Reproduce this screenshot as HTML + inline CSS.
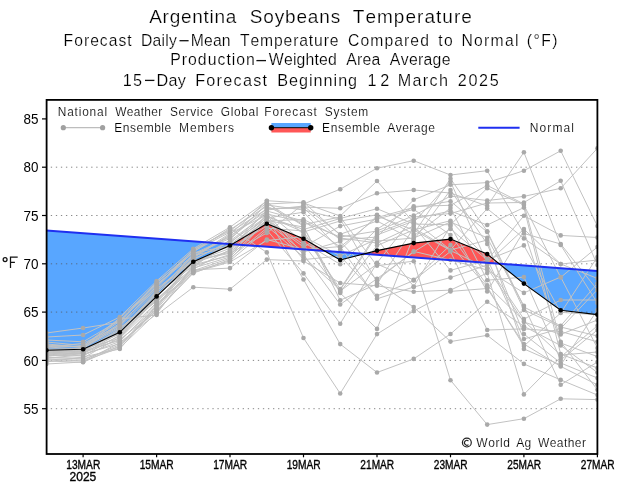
<!DOCTYPE html>
<html><head><meta charset="utf-8"><style>
html,body{margin:0;padding:0;background:#fff;width:621px;height:488px;overflow:hidden}
svg{display:block}
text{font-family:"Liberation Sans",sans-serif;fill:#000;font-kerning:none}
</style></head><body>
<svg width="621" height="488" viewBox="0 0 621 488">
<rect width="621" height="488" fill="#fff"/>
<defs><clipPath id="c"><rect x="46.6" y="99.9" width="550.8" height="354.1"/></clipPath></defs>
<g clip-path="url(#c)">
<path d="M46.4,230.6 L83.1,233.3 L83.1,349.3 L46.4,350.3Z M83.1,233.3 L119.8,236.0 L119.8,332.3 L83.1,349.3Z M119.8,236.0 L156.6,238.7 L156.6,296.4 L119.8,332.3Z M156.6,238.7 L193.3,241.3 L193.3,261.7 L156.6,296.4Z M193.3,241.3 L230.0,244.0 L230.0,245.5 L193.3,261.7Z M230.0,244.0 L232.2,244.2 L230.0,245.5Z M324.6,250.9 L340.2,252.1 L340.2,260.0Z M340.2,252.1 L364.3,253.9 L340.2,260.0Z M499.2,263.7 L523.9,265.5 L523.9,283.6Z M523.9,265.5 L560.7,268.2 L560.7,310.2 L523.9,283.6Z M560.7,268.2 L597.4,270.9 L597.4,314.6 L560.7,310.2Z" fill="#58a6ff"/>
<path d="M232.2,244.2 L266.8,246.7 L266.8,223.7Z M266.8,246.7 L303.5,249.4 L303.5,238.8 L266.8,223.7Z M303.5,249.4 L324.6,250.9 L303.5,238.8Z M364.3,253.9 L377.0,254.8 L377.0,250.6Z M377.0,254.8 L413.7,257.5 L413.7,243.1 L377.0,250.6Z M413.7,257.5 L450.5,260.2 L450.5,239.1 L413.7,243.1Z M450.5,260.2 L487.2,262.8 L487.2,254.1 L450.5,239.1Z M487.2,262.8 L499.2,263.7 L487.2,254.1Z" fill="#ff5757"/>
</g>
<line x1="50.8" x2="597.4" y1="167.2" y2="167.2" stroke="#555555" stroke-width="0.7" stroke-dasharray="1.3 3.75"/>
<line x1="50.8" x2="597.4" y1="215.5" y2="215.5" stroke="#555555" stroke-width="0.7" stroke-dasharray="1.3 3.75"/>
<line x1="50.8" x2="597.4" y1="263.8" y2="263.8" stroke="#555555" stroke-width="0.7" stroke-dasharray="1.3 3.75"/>
<line x1="50.8" x2="597.4" y1="312.1" y2="312.1" stroke="#555555" stroke-width="0.7" stroke-dasharray="1.3 3.75"/>
<line x1="50.8" x2="597.4" y1="360.4" y2="360.4" stroke="#555555" stroke-width="0.7" stroke-dasharray="1.3 3.75"/>
<line x1="50.8" x2="597.4" y1="408.7" y2="408.7" stroke="#555555" stroke-width="0.7" stroke-dasharray="1.3 3.75"/>
<g clip-path="url(#c)">
<polyline fill="none" stroke="#c2c2c2" stroke-width="1" points="46.4,361.0 83.1,362.3 119.8,345.8 156.6,308.2 193.3,260.5 230.0,253.3 266.8,233.0 303.5,204.0 340.2,189.2 377.0,168.2 413.7,160.7 450.5,175.0 487.2,170.7 523.9,233.5 560.7,244.0 597.4,290.0"/>
<polyline fill="none" stroke="#c2c2c2" stroke-width="1" points="46.4,349.0 83.1,348.5 119.8,324.5 156.6,287.8 193.3,251.2 230.0,232.2 266.8,209.0 303.5,207.0 340.2,208.3 377.0,193.3 413.7,190.0 450.5,193.0 487.2,206.0 523.9,152.3 560.7,245.0 597.4,303.0"/>
<polyline fill="none" stroke="#c2c2c2" stroke-width="1" points="46.4,355.0 83.1,352.5 119.8,336.2 156.6,298.0 193.3,254.6 230.0,238.4 266.8,208.6 303.5,208.0 340.2,240.0 377.0,237.0 413.7,199.8 450.5,184.8 487.2,182.6 523.9,170.7 560.7,150.8 597.4,226.0"/>
<polyline fill="none" stroke="#c2c2c2" stroke-width="1" points="46.4,364.0 83.1,362.0 119.8,342.6 156.6,313.9 193.3,264.8 230.0,255.8 266.8,214.0 303.5,222.0 340.2,237.0 377.0,231.0 413.7,215.6 450.5,196.1 487.2,200.5 523.9,196.4 560.7,188.3 597.4,148.3"/>
<polyline fill="none" stroke="#c2c2c2" stroke-width="1" points="46.4,362.0 83.1,357.0 119.8,349.0 156.6,305.9 193.3,271.5 230.0,260.8 266.8,230.0 303.5,273.4 340.2,323.7 377.0,262.9 413.7,217.0 450.5,213.5 487.2,203.0 523.9,202.5 560.7,180.8 597.4,265.0"/>
<polyline fill="none" stroke="#c2c2c2" stroke-width="1" points="46.4,345.0 83.1,347.5 119.8,319.1 156.6,315.0 193.3,287.2 230.0,289.2 266.8,259.6 303.5,261.0 340.2,283.0 377.0,285.8 413.7,291.7 450.5,290.1 487.2,273.0 523.9,394.4 560.7,357.0 597.4,325.8"/>
<polyline fill="none" stroke="#c2c2c2" stroke-width="1" points="46.4,347.0 83.1,343.4 119.8,325.5 156.6,285.5 193.3,252.1 230.0,228.4 266.8,252.4 303.5,338.0 340.2,393.5 377.0,334.1 413.7,311.1 450.5,291.4 487.2,288.5 523.9,344.0 560.7,366.4 597.4,384.8"/>
<polyline fill="none" stroke="#c2c2c2" stroke-width="1" points="46.4,356.0 83.1,354.0 119.8,343.7 156.6,309.3 193.3,266.4 230.0,254.5 266.8,217.0 303.5,279.5 340.2,344.1 377.0,372.5 413.7,358.9 450.5,334.0 487.2,301.7 523.9,326.3 560.7,345.5 597.4,372.5"/>
<polyline fill="none" stroke="#c2c2c2" stroke-width="1" points="46.4,333.0 83.1,328.0 119.8,322.3 156.6,283.3 193.3,250.4 230.0,229.7 266.8,206.0 303.5,224.5 340.2,217.0 377.0,265.7 413.7,261.2 450.5,380.2 487.2,424.6 523.9,418.7 560.7,398.8 597.4,399.6"/>
<polyline fill="none" stroke="#c2c2c2" stroke-width="1" points="46.4,352.0 83.1,350.0 119.8,329.8 156.6,293.5 193.3,253.8 230.0,237.1 266.8,205.0 303.5,210.0 340.2,219.0 377.0,282.0 413.7,307.1 450.5,341.6 487.2,335.3 523.9,363.9 560.7,379.9 597.4,395.0"/>
<polyline fill="none" stroke="#c2c2c2" stroke-width="1" points="46.4,348.0 83.1,346.0 119.8,318.1 156.6,284.4 193.3,255.5 230.0,247.1 266.8,216.0 303.5,232.0 340.2,221.0 377.0,214.8 413.7,234.0 450.5,178.7 487.2,231.2 523.9,307.0 560.7,325.8 597.4,283.5"/>
<polyline fill="none" stroke="#c2c2c2" stroke-width="1" points="46.4,353.0 83.1,351.5 119.8,328.7 156.6,295.7 193.3,258.8 230.0,242.1 266.8,216.5 303.5,229.5 340.2,218.5 377.0,208.7 413.7,224.0 450.5,224.8 487.2,188.2 523.9,205.0 560.7,277.4 597.4,247.0"/>
<polyline fill="none" stroke="#c2c2c2" stroke-width="1" points="46.4,357.0 83.1,359.0 119.8,346.9 156.6,304.8 193.3,269.0 230.0,249.6 266.8,210.0 303.5,206.0 340.2,234.3 377.0,221.0 413.7,240.0 450.5,190.0 487.2,243.9 523.9,334.1 560.7,363.0 597.4,378.0"/>
<polyline fill="none" stroke="#c2c2c2" stroke-width="1" points="46.4,358.0 83.1,358.0 119.8,337.3 156.6,299.1 193.3,267.3 230.0,239.6 266.8,204.0 303.5,202.2 340.2,235.0 377.0,241.0 413.7,238.1 450.5,222.0 487.2,237.8 523.9,305.8 560.7,384.8 597.4,362.0"/>
<polyline fill="none" stroke="#c2c2c2" stroke-width="1" points="46.4,356.0 83.1,353.0 119.8,339.4 156.6,311.6 193.3,272.4 230.0,262.0 266.8,240.5 303.5,236.6 340.2,255.8 377.0,239.0 413.7,286.5 450.5,226.0 487.2,291.5 523.9,231.0 560.7,343.0 597.4,356.6"/>
<polyline fill="none" stroke="#c2c2c2" stroke-width="1" points="46.4,352.0 83.1,350.5 119.8,331.9 156.6,292.3 193.3,263.9 230.0,244.6 266.8,218.0 303.5,212.2 340.2,249.7 377.0,216.0 413.7,230.0 450.5,250.5 487.2,268.0 523.9,322.0 560.7,334.4 597.4,320.0"/>
<polyline fill="none" stroke="#c2c2c2" stroke-width="1" points="46.4,358.0 83.1,355.0 119.8,341.5 156.6,303.7 193.3,270.7 230.0,258.3 266.8,228.0 303.5,231.0 340.2,292.0 377.0,245.6 413.7,229.9 450.5,220.7 487.2,258.7 523.9,339.0 560.7,328.5 597.4,289.7"/>
<polyline fill="none" stroke="#c2c2c2" stroke-width="1" points="46.4,360.0 83.1,360.0 119.8,344.7 156.6,310.5 193.3,273.2 230.0,259.5 266.8,220.5 303.5,227.0 340.2,293.0 377.0,328.9 413.7,236.0 450.5,208.0 487.2,280.2 523.9,277.1 560.7,360.0 597.4,330.0"/>
<polyline fill="none" stroke="#c2c2c2" stroke-width="1" points="46.4,346.0 83.1,346.5 119.8,326.6 156.6,290.1 193.3,261.4 230.0,252.1 266.8,222.3 303.5,252.0 340.2,241.5 377.0,280.0 413.7,251.4 450.5,260.0 487.2,270.0 523.9,292.9 560.7,277.0 597.4,348.0"/>
<polyline fill="none" stroke="#c2c2c2" stroke-width="1" points="46.4,353.0 83.1,351.0 119.8,340.5 156.6,307.1 193.3,258.0 230.0,234.7 266.8,200.7 303.5,203.0 340.2,216.0 377.0,181.0 413.7,222.5 450.5,181.7 487.2,263.0 523.9,229.1 560.7,264.0 597.4,278.4"/>
<polyline fill="none" stroke="#c2c2c2" stroke-width="1" points="46.4,359.0 83.1,361.0 119.8,347.9 156.6,312.7 193.3,269.8 230.0,268.1 266.8,239.5 303.5,249.5 340.2,246.6 377.0,298.8 413.7,287.0 450.5,277.6 487.2,265.0 523.9,319.1 560.7,300.0 597.4,300.0"/>
<polyline fill="none" stroke="#c2c2c2" stroke-width="1" points="46.4,354.0 83.1,352.0 119.8,330.9 156.6,291.2 193.3,256.3 230.0,235.9 266.8,211.0 303.5,221.0 340.2,247.0 377.0,217.5 413.7,207.5 450.5,201.2 487.2,232.0 523.9,309.9 560.7,327.0 597.4,336.0"/>
<polyline fill="none" stroke="#c2c2c2" stroke-width="1" points="46.4,351.0 83.1,349.5 119.8,334.1 156.6,300.3 193.3,263.1 230.0,250.8 266.8,219.5 303.5,244.5 340.2,291.0 377.0,264.0 413.7,279.9 450.5,245.0 487.2,287.0 523.9,346.0 560.7,313.0 597.4,257.0"/>
<polyline fill="none" stroke="#c2c2c2" stroke-width="1" points="46.4,342.0 83.1,345.5 119.8,321.3 156.6,282.1 193.3,252.9 230.0,245.8 266.8,221.0 303.5,219.4 340.2,238.0 377.0,243.0 413.7,226.0 450.5,270.4 487.2,260.0 523.9,245.4 560.7,312.3 597.4,314.8"/>
<polyline fill="none" stroke="#c2c2c2" stroke-width="1" points="46.4,354.0 83.1,353.5 119.8,333.0 156.6,294.6 193.3,265.6 230.0,243.4 266.8,212.0 303.5,242.3 340.2,264.3 377.0,229.2 413.7,206.4 450.5,205.3 487.2,185.4 523.9,204.0 560.7,341.8 597.4,389.7"/>
<polyline fill="none" stroke="#c2c2c2" stroke-width="1" points="46.4,340.0 83.1,341.8 119.8,320.2 156.6,286.7 193.3,249.5 230.0,230.9 266.8,203.0 303.5,226.0 340.2,300.2 377.0,284.0 413.7,228.0 450.5,250.0 487.2,240.0 523.9,348.9 560.7,365.0 597.4,310.0"/>
<polyline fill="none" stroke="#c2c2c2" stroke-width="1" points="46.4,337.0 83.1,335.0 119.8,317.0 156.6,281.0 193.3,248.7 230.0,227.2 266.8,201.0 303.5,234.5 340.2,289.0 377.0,233.0 413.7,219.0 450.5,211.0 487.2,225.0 523.9,207.6 560.7,354.1 597.4,368.0"/>
<polyline fill="none" stroke="#c2c2c2" stroke-width="1" points="46.4,355.0 83.1,356.0 119.8,335.1 156.6,296.9 193.3,257.1 230.0,233.4 266.8,215.0 303.5,259.6 340.2,256.0 377.0,295.9 413.7,280.5 450.5,251.4 487.2,330.0 523.9,328.9 560.7,331.5 597.4,341.8"/>
<polyline fill="none" stroke="#c2c2c2" stroke-width="1" points="46.4,351.0 83.1,349.0 119.8,338.3 156.6,302.5 193.3,262.2 230.0,248.3 266.8,226.0 303.5,257.0 340.2,290.0 377.0,235.0 413.7,221.0 450.5,249.8 487.2,208.6 523.9,238.4 560.7,264.1 597.4,260.0"/>
<polyline fill="none" stroke="#c2c2c2" stroke-width="1" points="46.4,344.0 83.1,347.0 119.8,323.4 156.6,288.9 193.3,259.7 230.0,240.9 266.8,213.5 303.5,254.5 340.2,304.5 377.0,278.7 413.7,252.0 450.5,228.9 487.2,260.0 523.9,215.8 560.7,235.4 597.4,237.5"/>
<polyline fill="none" stroke="#c2c2c2" stroke-width="1" points="46.4,350.0 83.1,348.0 119.8,327.7 156.6,301.4 193.3,268.1 230.0,257.0 266.8,220.0 303.5,247.0 340.2,226.1 377.0,219.0 413.7,209.4 450.5,235.0 487.2,285.3 523.9,321.0 560.7,355.0 597.4,352.0"/>
<circle cx="46.4" cy="361.0" r="2.3" fill="#a9a9a9"/>
<circle cx="83.1" cy="362.3" r="2.3" fill="#a9a9a9"/>
<circle cx="119.8" cy="345.8" r="2.3" fill="#a9a9a9"/>
<circle cx="156.6" cy="308.2" r="2.3" fill="#a9a9a9"/>
<circle cx="193.3" cy="260.5" r="2.3" fill="#a9a9a9"/>
<circle cx="230.0" cy="253.3" r="2.3" fill="#a9a9a9"/>
<circle cx="266.8" cy="233.0" r="2.3" fill="#a9a9a9"/>
<circle cx="303.5" cy="204.0" r="2.3" fill="#a9a9a9"/>
<circle cx="340.2" cy="189.2" r="2.3" fill="#a9a9a9"/>
<circle cx="377.0" cy="168.2" r="2.3" fill="#a9a9a9"/>
<circle cx="413.7" cy="160.7" r="2.3" fill="#a9a9a9"/>
<circle cx="450.5" cy="175.0" r="2.3" fill="#a9a9a9"/>
<circle cx="487.2" cy="170.7" r="2.3" fill="#a9a9a9"/>
<circle cx="523.9" cy="233.5" r="2.3" fill="#a9a9a9"/>
<circle cx="560.7" cy="244.0" r="2.3" fill="#a9a9a9"/>
<circle cx="597.4" cy="290.0" r="2.3" fill="#a9a9a9"/>
<circle cx="46.4" cy="349.0" r="2.3" fill="#a9a9a9"/>
<circle cx="83.1" cy="348.5" r="2.3" fill="#a9a9a9"/>
<circle cx="119.8" cy="324.5" r="2.3" fill="#a9a9a9"/>
<circle cx="156.6" cy="287.8" r="2.3" fill="#a9a9a9"/>
<circle cx="193.3" cy="251.2" r="2.3" fill="#a9a9a9"/>
<circle cx="230.0" cy="232.2" r="2.3" fill="#a9a9a9"/>
<circle cx="266.8" cy="209.0" r="2.3" fill="#a9a9a9"/>
<circle cx="303.5" cy="207.0" r="2.3" fill="#a9a9a9"/>
<circle cx="340.2" cy="208.3" r="2.3" fill="#a9a9a9"/>
<circle cx="377.0" cy="193.3" r="2.3" fill="#a9a9a9"/>
<circle cx="413.7" cy="190.0" r="2.3" fill="#a9a9a9"/>
<circle cx="450.5" cy="193.0" r="2.3" fill="#a9a9a9"/>
<circle cx="487.2" cy="206.0" r="2.3" fill="#a9a9a9"/>
<circle cx="523.9" cy="152.3" r="2.3" fill="#a9a9a9"/>
<circle cx="560.7" cy="245.0" r="2.3" fill="#a9a9a9"/>
<circle cx="597.4" cy="303.0" r="2.3" fill="#a9a9a9"/>
<circle cx="46.4" cy="355.0" r="2.3" fill="#a9a9a9"/>
<circle cx="83.1" cy="352.5" r="2.3" fill="#a9a9a9"/>
<circle cx="119.8" cy="336.2" r="2.3" fill="#a9a9a9"/>
<circle cx="156.6" cy="298.0" r="2.3" fill="#a9a9a9"/>
<circle cx="193.3" cy="254.6" r="2.3" fill="#a9a9a9"/>
<circle cx="230.0" cy="238.4" r="2.3" fill="#a9a9a9"/>
<circle cx="266.8" cy="208.6" r="2.3" fill="#a9a9a9"/>
<circle cx="303.5" cy="208.0" r="2.3" fill="#a9a9a9"/>
<circle cx="340.2" cy="240.0" r="2.3" fill="#a9a9a9"/>
<circle cx="377.0" cy="237.0" r="2.3" fill="#a9a9a9"/>
<circle cx="413.7" cy="199.8" r="2.3" fill="#a9a9a9"/>
<circle cx="450.5" cy="184.8" r="2.3" fill="#a9a9a9"/>
<circle cx="487.2" cy="182.6" r="2.3" fill="#a9a9a9"/>
<circle cx="523.9" cy="170.7" r="2.3" fill="#a9a9a9"/>
<circle cx="560.7" cy="150.8" r="2.3" fill="#a9a9a9"/>
<circle cx="597.4" cy="226.0" r="2.3" fill="#a9a9a9"/>
<circle cx="46.4" cy="364.0" r="2.3" fill="#a9a9a9"/>
<circle cx="83.1" cy="362.0" r="2.3" fill="#a9a9a9"/>
<circle cx="119.8" cy="342.6" r="2.3" fill="#a9a9a9"/>
<circle cx="156.6" cy="313.9" r="2.3" fill="#a9a9a9"/>
<circle cx="193.3" cy="264.8" r="2.3" fill="#a9a9a9"/>
<circle cx="230.0" cy="255.8" r="2.3" fill="#a9a9a9"/>
<circle cx="266.8" cy="214.0" r="2.3" fill="#a9a9a9"/>
<circle cx="303.5" cy="222.0" r="2.3" fill="#a9a9a9"/>
<circle cx="340.2" cy="237.0" r="2.3" fill="#a9a9a9"/>
<circle cx="377.0" cy="231.0" r="2.3" fill="#a9a9a9"/>
<circle cx="413.7" cy="215.6" r="2.3" fill="#a9a9a9"/>
<circle cx="450.5" cy="196.1" r="2.3" fill="#a9a9a9"/>
<circle cx="487.2" cy="200.5" r="2.3" fill="#a9a9a9"/>
<circle cx="523.9" cy="196.4" r="2.3" fill="#a9a9a9"/>
<circle cx="560.7" cy="188.3" r="2.3" fill="#a9a9a9"/>
<circle cx="597.4" cy="148.3" r="2.3" fill="#a9a9a9"/>
<circle cx="46.4" cy="362.0" r="2.3" fill="#a9a9a9"/>
<circle cx="83.1" cy="357.0" r="2.3" fill="#a9a9a9"/>
<circle cx="119.8" cy="349.0" r="2.3" fill="#a9a9a9"/>
<circle cx="156.6" cy="305.9" r="2.3" fill="#a9a9a9"/>
<circle cx="193.3" cy="271.5" r="2.3" fill="#a9a9a9"/>
<circle cx="230.0" cy="260.8" r="2.3" fill="#a9a9a9"/>
<circle cx="266.8" cy="230.0" r="2.3" fill="#a9a9a9"/>
<circle cx="303.5" cy="273.4" r="2.3" fill="#a9a9a9"/>
<circle cx="340.2" cy="323.7" r="2.3" fill="#a9a9a9"/>
<circle cx="377.0" cy="262.9" r="2.3" fill="#a9a9a9"/>
<circle cx="413.7" cy="217.0" r="2.3" fill="#a9a9a9"/>
<circle cx="450.5" cy="213.5" r="2.3" fill="#a9a9a9"/>
<circle cx="487.2" cy="203.0" r="2.3" fill="#a9a9a9"/>
<circle cx="523.9" cy="202.5" r="2.3" fill="#a9a9a9"/>
<circle cx="560.7" cy="180.8" r="2.3" fill="#a9a9a9"/>
<circle cx="597.4" cy="265.0" r="2.3" fill="#a9a9a9"/>
<circle cx="46.4" cy="345.0" r="2.3" fill="#a9a9a9"/>
<circle cx="83.1" cy="347.5" r="2.3" fill="#a9a9a9"/>
<circle cx="119.8" cy="319.1" r="2.3" fill="#a9a9a9"/>
<circle cx="156.6" cy="315.0" r="2.3" fill="#a9a9a9"/>
<circle cx="193.3" cy="287.2" r="2.3" fill="#a9a9a9"/>
<circle cx="230.0" cy="289.2" r="2.3" fill="#a9a9a9"/>
<circle cx="266.8" cy="259.6" r="2.3" fill="#a9a9a9"/>
<circle cx="303.5" cy="261.0" r="2.3" fill="#a9a9a9"/>
<circle cx="340.2" cy="283.0" r="2.3" fill="#a9a9a9"/>
<circle cx="377.0" cy="285.8" r="2.3" fill="#a9a9a9"/>
<circle cx="413.7" cy="291.7" r="2.3" fill="#a9a9a9"/>
<circle cx="450.5" cy="290.1" r="2.3" fill="#a9a9a9"/>
<circle cx="487.2" cy="273.0" r="2.3" fill="#a9a9a9"/>
<circle cx="523.9" cy="394.4" r="2.3" fill="#a9a9a9"/>
<circle cx="560.7" cy="357.0" r="2.3" fill="#a9a9a9"/>
<circle cx="597.4" cy="325.8" r="2.3" fill="#a9a9a9"/>
<circle cx="46.4" cy="347.0" r="2.3" fill="#a9a9a9"/>
<circle cx="83.1" cy="343.4" r="2.3" fill="#a9a9a9"/>
<circle cx="119.8" cy="325.5" r="2.3" fill="#a9a9a9"/>
<circle cx="156.6" cy="285.5" r="2.3" fill="#a9a9a9"/>
<circle cx="193.3" cy="252.1" r="2.3" fill="#a9a9a9"/>
<circle cx="230.0" cy="228.4" r="2.3" fill="#a9a9a9"/>
<circle cx="266.8" cy="252.4" r="2.3" fill="#a9a9a9"/>
<circle cx="303.5" cy="338.0" r="2.3" fill="#a9a9a9"/>
<circle cx="340.2" cy="393.5" r="2.3" fill="#a9a9a9"/>
<circle cx="377.0" cy="334.1" r="2.3" fill="#a9a9a9"/>
<circle cx="413.7" cy="311.1" r="2.3" fill="#a9a9a9"/>
<circle cx="450.5" cy="291.4" r="2.3" fill="#a9a9a9"/>
<circle cx="487.2" cy="288.5" r="2.3" fill="#a9a9a9"/>
<circle cx="523.9" cy="344.0" r="2.3" fill="#a9a9a9"/>
<circle cx="560.7" cy="366.4" r="2.3" fill="#a9a9a9"/>
<circle cx="597.4" cy="384.8" r="2.3" fill="#a9a9a9"/>
<circle cx="46.4" cy="356.0" r="2.3" fill="#a9a9a9"/>
<circle cx="83.1" cy="354.0" r="2.3" fill="#a9a9a9"/>
<circle cx="119.8" cy="343.7" r="2.3" fill="#a9a9a9"/>
<circle cx="156.6" cy="309.3" r="2.3" fill="#a9a9a9"/>
<circle cx="193.3" cy="266.4" r="2.3" fill="#a9a9a9"/>
<circle cx="230.0" cy="254.5" r="2.3" fill="#a9a9a9"/>
<circle cx="266.8" cy="217.0" r="2.3" fill="#a9a9a9"/>
<circle cx="303.5" cy="279.5" r="2.3" fill="#a9a9a9"/>
<circle cx="340.2" cy="344.1" r="2.3" fill="#a9a9a9"/>
<circle cx="377.0" cy="372.5" r="2.3" fill="#a9a9a9"/>
<circle cx="413.7" cy="358.9" r="2.3" fill="#a9a9a9"/>
<circle cx="450.5" cy="334.0" r="2.3" fill="#a9a9a9"/>
<circle cx="487.2" cy="301.7" r="2.3" fill="#a9a9a9"/>
<circle cx="523.9" cy="326.3" r="2.3" fill="#a9a9a9"/>
<circle cx="560.7" cy="345.5" r="2.3" fill="#a9a9a9"/>
<circle cx="597.4" cy="372.5" r="2.3" fill="#a9a9a9"/>
<circle cx="46.4" cy="333.0" r="2.3" fill="#a9a9a9"/>
<circle cx="83.1" cy="328.0" r="2.3" fill="#a9a9a9"/>
<circle cx="119.8" cy="322.3" r="2.3" fill="#a9a9a9"/>
<circle cx="156.6" cy="283.3" r="2.3" fill="#a9a9a9"/>
<circle cx="193.3" cy="250.4" r="2.3" fill="#a9a9a9"/>
<circle cx="230.0" cy="229.7" r="2.3" fill="#a9a9a9"/>
<circle cx="266.8" cy="206.0" r="2.3" fill="#a9a9a9"/>
<circle cx="303.5" cy="224.5" r="2.3" fill="#a9a9a9"/>
<circle cx="340.2" cy="217.0" r="2.3" fill="#a9a9a9"/>
<circle cx="377.0" cy="265.7" r="2.3" fill="#a9a9a9"/>
<circle cx="413.7" cy="261.2" r="2.3" fill="#a9a9a9"/>
<circle cx="450.5" cy="380.2" r="2.3" fill="#a9a9a9"/>
<circle cx="487.2" cy="424.6" r="2.3" fill="#a9a9a9"/>
<circle cx="523.9" cy="418.7" r="2.3" fill="#a9a9a9"/>
<circle cx="560.7" cy="398.8" r="2.3" fill="#a9a9a9"/>
<circle cx="597.4" cy="399.6" r="2.3" fill="#a9a9a9"/>
<circle cx="46.4" cy="352.0" r="2.3" fill="#a9a9a9"/>
<circle cx="83.1" cy="350.0" r="2.3" fill="#a9a9a9"/>
<circle cx="119.8" cy="329.8" r="2.3" fill="#a9a9a9"/>
<circle cx="156.6" cy="293.5" r="2.3" fill="#a9a9a9"/>
<circle cx="193.3" cy="253.8" r="2.3" fill="#a9a9a9"/>
<circle cx="230.0" cy="237.1" r="2.3" fill="#a9a9a9"/>
<circle cx="266.8" cy="205.0" r="2.3" fill="#a9a9a9"/>
<circle cx="303.5" cy="210.0" r="2.3" fill="#a9a9a9"/>
<circle cx="340.2" cy="219.0" r="2.3" fill="#a9a9a9"/>
<circle cx="377.0" cy="282.0" r="2.3" fill="#a9a9a9"/>
<circle cx="413.7" cy="307.1" r="2.3" fill="#a9a9a9"/>
<circle cx="450.5" cy="341.6" r="2.3" fill="#a9a9a9"/>
<circle cx="487.2" cy="335.3" r="2.3" fill="#a9a9a9"/>
<circle cx="523.9" cy="363.9" r="2.3" fill="#a9a9a9"/>
<circle cx="560.7" cy="379.9" r="2.3" fill="#a9a9a9"/>
<circle cx="597.4" cy="395.0" r="2.3" fill="#a9a9a9"/>
<circle cx="46.4" cy="348.0" r="2.3" fill="#a9a9a9"/>
<circle cx="83.1" cy="346.0" r="2.3" fill="#a9a9a9"/>
<circle cx="119.8" cy="318.1" r="2.3" fill="#a9a9a9"/>
<circle cx="156.6" cy="284.4" r="2.3" fill="#a9a9a9"/>
<circle cx="193.3" cy="255.5" r="2.3" fill="#a9a9a9"/>
<circle cx="230.0" cy="247.1" r="2.3" fill="#a9a9a9"/>
<circle cx="266.8" cy="216.0" r="2.3" fill="#a9a9a9"/>
<circle cx="303.5" cy="232.0" r="2.3" fill="#a9a9a9"/>
<circle cx="340.2" cy="221.0" r="2.3" fill="#a9a9a9"/>
<circle cx="377.0" cy="214.8" r="2.3" fill="#a9a9a9"/>
<circle cx="413.7" cy="234.0" r="2.3" fill="#a9a9a9"/>
<circle cx="450.5" cy="178.7" r="2.3" fill="#a9a9a9"/>
<circle cx="487.2" cy="231.2" r="2.3" fill="#a9a9a9"/>
<circle cx="523.9" cy="307.0" r="2.3" fill="#a9a9a9"/>
<circle cx="560.7" cy="325.8" r="2.3" fill="#a9a9a9"/>
<circle cx="597.4" cy="283.5" r="2.3" fill="#a9a9a9"/>
<circle cx="46.4" cy="353.0" r="2.3" fill="#a9a9a9"/>
<circle cx="83.1" cy="351.5" r="2.3" fill="#a9a9a9"/>
<circle cx="119.8" cy="328.7" r="2.3" fill="#a9a9a9"/>
<circle cx="156.6" cy="295.7" r="2.3" fill="#a9a9a9"/>
<circle cx="193.3" cy="258.8" r="2.3" fill="#a9a9a9"/>
<circle cx="230.0" cy="242.1" r="2.3" fill="#a9a9a9"/>
<circle cx="266.8" cy="216.5" r="2.3" fill="#a9a9a9"/>
<circle cx="303.5" cy="229.5" r="2.3" fill="#a9a9a9"/>
<circle cx="340.2" cy="218.5" r="2.3" fill="#a9a9a9"/>
<circle cx="377.0" cy="208.7" r="2.3" fill="#a9a9a9"/>
<circle cx="413.7" cy="224.0" r="2.3" fill="#a9a9a9"/>
<circle cx="450.5" cy="224.8" r="2.3" fill="#a9a9a9"/>
<circle cx="487.2" cy="188.2" r="2.3" fill="#a9a9a9"/>
<circle cx="523.9" cy="205.0" r="2.3" fill="#a9a9a9"/>
<circle cx="560.7" cy="277.4" r="2.3" fill="#a9a9a9"/>
<circle cx="597.4" cy="247.0" r="2.3" fill="#a9a9a9"/>
<circle cx="46.4" cy="357.0" r="2.3" fill="#a9a9a9"/>
<circle cx="83.1" cy="359.0" r="2.3" fill="#a9a9a9"/>
<circle cx="119.8" cy="346.9" r="2.3" fill="#a9a9a9"/>
<circle cx="156.6" cy="304.8" r="2.3" fill="#a9a9a9"/>
<circle cx="193.3" cy="269.0" r="2.3" fill="#a9a9a9"/>
<circle cx="230.0" cy="249.6" r="2.3" fill="#a9a9a9"/>
<circle cx="266.8" cy="210.0" r="2.3" fill="#a9a9a9"/>
<circle cx="303.5" cy="206.0" r="2.3" fill="#a9a9a9"/>
<circle cx="340.2" cy="234.3" r="2.3" fill="#a9a9a9"/>
<circle cx="377.0" cy="221.0" r="2.3" fill="#a9a9a9"/>
<circle cx="413.7" cy="240.0" r="2.3" fill="#a9a9a9"/>
<circle cx="450.5" cy="190.0" r="2.3" fill="#a9a9a9"/>
<circle cx="487.2" cy="243.9" r="2.3" fill="#a9a9a9"/>
<circle cx="523.9" cy="334.1" r="2.3" fill="#a9a9a9"/>
<circle cx="560.7" cy="363.0" r="2.3" fill="#a9a9a9"/>
<circle cx="597.4" cy="378.0" r="2.3" fill="#a9a9a9"/>
<circle cx="46.4" cy="358.0" r="2.3" fill="#a9a9a9"/>
<circle cx="83.1" cy="358.0" r="2.3" fill="#a9a9a9"/>
<circle cx="119.8" cy="337.3" r="2.3" fill="#a9a9a9"/>
<circle cx="156.6" cy="299.1" r="2.3" fill="#a9a9a9"/>
<circle cx="193.3" cy="267.3" r="2.3" fill="#a9a9a9"/>
<circle cx="230.0" cy="239.6" r="2.3" fill="#a9a9a9"/>
<circle cx="266.8" cy="204.0" r="2.3" fill="#a9a9a9"/>
<circle cx="303.5" cy="202.2" r="2.3" fill="#a9a9a9"/>
<circle cx="340.2" cy="235.0" r="2.3" fill="#a9a9a9"/>
<circle cx="377.0" cy="241.0" r="2.3" fill="#a9a9a9"/>
<circle cx="413.7" cy="238.1" r="2.3" fill="#a9a9a9"/>
<circle cx="450.5" cy="222.0" r="2.3" fill="#a9a9a9"/>
<circle cx="487.2" cy="237.8" r="2.3" fill="#a9a9a9"/>
<circle cx="523.9" cy="305.8" r="2.3" fill="#a9a9a9"/>
<circle cx="560.7" cy="384.8" r="2.3" fill="#a9a9a9"/>
<circle cx="597.4" cy="362.0" r="2.3" fill="#a9a9a9"/>
<circle cx="46.4" cy="356.0" r="2.3" fill="#a9a9a9"/>
<circle cx="83.1" cy="353.0" r="2.3" fill="#a9a9a9"/>
<circle cx="119.8" cy="339.4" r="2.3" fill="#a9a9a9"/>
<circle cx="156.6" cy="311.6" r="2.3" fill="#a9a9a9"/>
<circle cx="193.3" cy="272.4" r="2.3" fill="#a9a9a9"/>
<circle cx="230.0" cy="262.0" r="2.3" fill="#a9a9a9"/>
<circle cx="266.8" cy="240.5" r="2.3" fill="#a9a9a9"/>
<circle cx="303.5" cy="236.6" r="2.3" fill="#a9a9a9"/>
<circle cx="340.2" cy="255.8" r="2.3" fill="#a9a9a9"/>
<circle cx="377.0" cy="239.0" r="2.3" fill="#a9a9a9"/>
<circle cx="413.7" cy="286.5" r="2.3" fill="#a9a9a9"/>
<circle cx="450.5" cy="226.0" r="2.3" fill="#a9a9a9"/>
<circle cx="487.2" cy="291.5" r="2.3" fill="#a9a9a9"/>
<circle cx="523.9" cy="231.0" r="2.3" fill="#a9a9a9"/>
<circle cx="560.7" cy="343.0" r="2.3" fill="#a9a9a9"/>
<circle cx="597.4" cy="356.6" r="2.3" fill="#a9a9a9"/>
<circle cx="46.4" cy="352.0" r="2.3" fill="#a9a9a9"/>
<circle cx="83.1" cy="350.5" r="2.3" fill="#a9a9a9"/>
<circle cx="119.8" cy="331.9" r="2.3" fill="#a9a9a9"/>
<circle cx="156.6" cy="292.3" r="2.3" fill="#a9a9a9"/>
<circle cx="193.3" cy="263.9" r="2.3" fill="#a9a9a9"/>
<circle cx="230.0" cy="244.6" r="2.3" fill="#a9a9a9"/>
<circle cx="266.8" cy="218.0" r="2.3" fill="#a9a9a9"/>
<circle cx="303.5" cy="212.2" r="2.3" fill="#a9a9a9"/>
<circle cx="340.2" cy="249.7" r="2.3" fill="#a9a9a9"/>
<circle cx="377.0" cy="216.0" r="2.3" fill="#a9a9a9"/>
<circle cx="413.7" cy="230.0" r="2.3" fill="#a9a9a9"/>
<circle cx="450.5" cy="250.5" r="2.3" fill="#a9a9a9"/>
<circle cx="487.2" cy="268.0" r="2.3" fill="#a9a9a9"/>
<circle cx="523.9" cy="322.0" r="2.3" fill="#a9a9a9"/>
<circle cx="560.7" cy="334.4" r="2.3" fill="#a9a9a9"/>
<circle cx="597.4" cy="320.0" r="2.3" fill="#a9a9a9"/>
<circle cx="46.4" cy="358.0" r="2.3" fill="#a9a9a9"/>
<circle cx="83.1" cy="355.0" r="2.3" fill="#a9a9a9"/>
<circle cx="119.8" cy="341.5" r="2.3" fill="#a9a9a9"/>
<circle cx="156.6" cy="303.7" r="2.3" fill="#a9a9a9"/>
<circle cx="193.3" cy="270.7" r="2.3" fill="#a9a9a9"/>
<circle cx="230.0" cy="258.3" r="2.3" fill="#a9a9a9"/>
<circle cx="266.8" cy="228.0" r="2.3" fill="#a9a9a9"/>
<circle cx="303.5" cy="231.0" r="2.3" fill="#a9a9a9"/>
<circle cx="340.2" cy="292.0" r="2.3" fill="#a9a9a9"/>
<circle cx="377.0" cy="245.6" r="2.3" fill="#a9a9a9"/>
<circle cx="413.7" cy="229.9" r="2.3" fill="#a9a9a9"/>
<circle cx="450.5" cy="220.7" r="2.3" fill="#a9a9a9"/>
<circle cx="487.2" cy="258.7" r="2.3" fill="#a9a9a9"/>
<circle cx="523.9" cy="339.0" r="2.3" fill="#a9a9a9"/>
<circle cx="560.7" cy="328.5" r="2.3" fill="#a9a9a9"/>
<circle cx="597.4" cy="289.7" r="2.3" fill="#a9a9a9"/>
<circle cx="46.4" cy="360.0" r="2.3" fill="#a9a9a9"/>
<circle cx="83.1" cy="360.0" r="2.3" fill="#a9a9a9"/>
<circle cx="119.8" cy="344.7" r="2.3" fill="#a9a9a9"/>
<circle cx="156.6" cy="310.5" r="2.3" fill="#a9a9a9"/>
<circle cx="193.3" cy="273.2" r="2.3" fill="#a9a9a9"/>
<circle cx="230.0" cy="259.5" r="2.3" fill="#a9a9a9"/>
<circle cx="266.8" cy="220.5" r="2.3" fill="#a9a9a9"/>
<circle cx="303.5" cy="227.0" r="2.3" fill="#a9a9a9"/>
<circle cx="340.2" cy="293.0" r="2.3" fill="#a9a9a9"/>
<circle cx="377.0" cy="328.9" r="2.3" fill="#a9a9a9"/>
<circle cx="413.7" cy="236.0" r="2.3" fill="#a9a9a9"/>
<circle cx="450.5" cy="208.0" r="2.3" fill="#a9a9a9"/>
<circle cx="487.2" cy="280.2" r="2.3" fill="#a9a9a9"/>
<circle cx="523.9" cy="277.1" r="2.3" fill="#a9a9a9"/>
<circle cx="560.7" cy="360.0" r="2.3" fill="#a9a9a9"/>
<circle cx="597.4" cy="330.0" r="2.3" fill="#a9a9a9"/>
<circle cx="46.4" cy="346.0" r="2.3" fill="#a9a9a9"/>
<circle cx="83.1" cy="346.5" r="2.3" fill="#a9a9a9"/>
<circle cx="119.8" cy="326.6" r="2.3" fill="#a9a9a9"/>
<circle cx="156.6" cy="290.1" r="2.3" fill="#a9a9a9"/>
<circle cx="193.3" cy="261.4" r="2.3" fill="#a9a9a9"/>
<circle cx="230.0" cy="252.1" r="2.3" fill="#a9a9a9"/>
<circle cx="266.8" cy="222.3" r="2.3" fill="#a9a9a9"/>
<circle cx="303.5" cy="252.0" r="2.3" fill="#a9a9a9"/>
<circle cx="340.2" cy="241.5" r="2.3" fill="#a9a9a9"/>
<circle cx="377.0" cy="280.0" r="2.3" fill="#a9a9a9"/>
<circle cx="413.7" cy="251.4" r="2.3" fill="#a9a9a9"/>
<circle cx="450.5" cy="260.0" r="2.3" fill="#a9a9a9"/>
<circle cx="487.2" cy="270.0" r="2.3" fill="#a9a9a9"/>
<circle cx="523.9" cy="292.9" r="2.3" fill="#a9a9a9"/>
<circle cx="560.7" cy="277.0" r="2.3" fill="#a9a9a9"/>
<circle cx="597.4" cy="348.0" r="2.3" fill="#a9a9a9"/>
<circle cx="46.4" cy="353.0" r="2.3" fill="#a9a9a9"/>
<circle cx="83.1" cy="351.0" r="2.3" fill="#a9a9a9"/>
<circle cx="119.8" cy="340.5" r="2.3" fill="#a9a9a9"/>
<circle cx="156.6" cy="307.1" r="2.3" fill="#a9a9a9"/>
<circle cx="193.3" cy="258.0" r="2.3" fill="#a9a9a9"/>
<circle cx="230.0" cy="234.7" r="2.3" fill="#a9a9a9"/>
<circle cx="266.8" cy="200.7" r="2.3" fill="#a9a9a9"/>
<circle cx="303.5" cy="203.0" r="2.3" fill="#a9a9a9"/>
<circle cx="340.2" cy="216.0" r="2.3" fill="#a9a9a9"/>
<circle cx="377.0" cy="181.0" r="2.3" fill="#a9a9a9"/>
<circle cx="413.7" cy="222.5" r="2.3" fill="#a9a9a9"/>
<circle cx="450.5" cy="181.7" r="2.3" fill="#a9a9a9"/>
<circle cx="487.2" cy="263.0" r="2.3" fill="#a9a9a9"/>
<circle cx="523.9" cy="229.1" r="2.3" fill="#a9a9a9"/>
<circle cx="560.7" cy="264.0" r="2.3" fill="#a9a9a9"/>
<circle cx="597.4" cy="278.4" r="2.3" fill="#a9a9a9"/>
<circle cx="46.4" cy="359.0" r="2.3" fill="#a9a9a9"/>
<circle cx="83.1" cy="361.0" r="2.3" fill="#a9a9a9"/>
<circle cx="119.8" cy="347.9" r="2.3" fill="#a9a9a9"/>
<circle cx="156.6" cy="312.7" r="2.3" fill="#a9a9a9"/>
<circle cx="193.3" cy="269.8" r="2.3" fill="#a9a9a9"/>
<circle cx="230.0" cy="268.1" r="2.3" fill="#a9a9a9"/>
<circle cx="266.8" cy="239.5" r="2.3" fill="#a9a9a9"/>
<circle cx="303.5" cy="249.5" r="2.3" fill="#a9a9a9"/>
<circle cx="340.2" cy="246.6" r="2.3" fill="#a9a9a9"/>
<circle cx="377.0" cy="298.8" r="2.3" fill="#a9a9a9"/>
<circle cx="413.7" cy="287.0" r="2.3" fill="#a9a9a9"/>
<circle cx="450.5" cy="277.6" r="2.3" fill="#a9a9a9"/>
<circle cx="487.2" cy="265.0" r="2.3" fill="#a9a9a9"/>
<circle cx="523.9" cy="319.1" r="2.3" fill="#a9a9a9"/>
<circle cx="560.7" cy="300.0" r="2.3" fill="#a9a9a9"/>
<circle cx="597.4" cy="300.0" r="2.3" fill="#a9a9a9"/>
<circle cx="46.4" cy="354.0" r="2.3" fill="#a9a9a9"/>
<circle cx="83.1" cy="352.0" r="2.3" fill="#a9a9a9"/>
<circle cx="119.8" cy="330.9" r="2.3" fill="#a9a9a9"/>
<circle cx="156.6" cy="291.2" r="2.3" fill="#a9a9a9"/>
<circle cx="193.3" cy="256.3" r="2.3" fill="#a9a9a9"/>
<circle cx="230.0" cy="235.9" r="2.3" fill="#a9a9a9"/>
<circle cx="266.8" cy="211.0" r="2.3" fill="#a9a9a9"/>
<circle cx="303.5" cy="221.0" r="2.3" fill="#a9a9a9"/>
<circle cx="340.2" cy="247.0" r="2.3" fill="#a9a9a9"/>
<circle cx="377.0" cy="217.5" r="2.3" fill="#a9a9a9"/>
<circle cx="413.7" cy="207.5" r="2.3" fill="#a9a9a9"/>
<circle cx="450.5" cy="201.2" r="2.3" fill="#a9a9a9"/>
<circle cx="487.2" cy="232.0" r="2.3" fill="#a9a9a9"/>
<circle cx="523.9" cy="309.9" r="2.3" fill="#a9a9a9"/>
<circle cx="560.7" cy="327.0" r="2.3" fill="#a9a9a9"/>
<circle cx="597.4" cy="336.0" r="2.3" fill="#a9a9a9"/>
<circle cx="46.4" cy="351.0" r="2.3" fill="#a9a9a9"/>
<circle cx="83.1" cy="349.5" r="2.3" fill="#a9a9a9"/>
<circle cx="119.8" cy="334.1" r="2.3" fill="#a9a9a9"/>
<circle cx="156.6" cy="300.3" r="2.3" fill="#a9a9a9"/>
<circle cx="193.3" cy="263.1" r="2.3" fill="#a9a9a9"/>
<circle cx="230.0" cy="250.8" r="2.3" fill="#a9a9a9"/>
<circle cx="266.8" cy="219.5" r="2.3" fill="#a9a9a9"/>
<circle cx="303.5" cy="244.5" r="2.3" fill="#a9a9a9"/>
<circle cx="340.2" cy="291.0" r="2.3" fill="#a9a9a9"/>
<circle cx="377.0" cy="264.0" r="2.3" fill="#a9a9a9"/>
<circle cx="413.7" cy="279.9" r="2.3" fill="#a9a9a9"/>
<circle cx="450.5" cy="245.0" r="2.3" fill="#a9a9a9"/>
<circle cx="487.2" cy="287.0" r="2.3" fill="#a9a9a9"/>
<circle cx="523.9" cy="346.0" r="2.3" fill="#a9a9a9"/>
<circle cx="560.7" cy="313.0" r="2.3" fill="#a9a9a9"/>
<circle cx="597.4" cy="257.0" r="2.3" fill="#a9a9a9"/>
<circle cx="46.4" cy="342.0" r="2.3" fill="#a9a9a9"/>
<circle cx="83.1" cy="345.5" r="2.3" fill="#a9a9a9"/>
<circle cx="119.8" cy="321.3" r="2.3" fill="#a9a9a9"/>
<circle cx="156.6" cy="282.1" r="2.3" fill="#a9a9a9"/>
<circle cx="193.3" cy="252.9" r="2.3" fill="#a9a9a9"/>
<circle cx="230.0" cy="245.8" r="2.3" fill="#a9a9a9"/>
<circle cx="266.8" cy="221.0" r="2.3" fill="#a9a9a9"/>
<circle cx="303.5" cy="219.4" r="2.3" fill="#a9a9a9"/>
<circle cx="340.2" cy="238.0" r="2.3" fill="#a9a9a9"/>
<circle cx="377.0" cy="243.0" r="2.3" fill="#a9a9a9"/>
<circle cx="413.7" cy="226.0" r="2.3" fill="#a9a9a9"/>
<circle cx="450.5" cy="270.4" r="2.3" fill="#a9a9a9"/>
<circle cx="487.2" cy="260.0" r="2.3" fill="#a9a9a9"/>
<circle cx="523.9" cy="245.4" r="2.3" fill="#a9a9a9"/>
<circle cx="560.7" cy="312.3" r="2.3" fill="#a9a9a9"/>
<circle cx="597.4" cy="314.8" r="2.3" fill="#a9a9a9"/>
<circle cx="46.4" cy="354.0" r="2.3" fill="#a9a9a9"/>
<circle cx="83.1" cy="353.5" r="2.3" fill="#a9a9a9"/>
<circle cx="119.8" cy="333.0" r="2.3" fill="#a9a9a9"/>
<circle cx="156.6" cy="294.6" r="2.3" fill="#a9a9a9"/>
<circle cx="193.3" cy="265.6" r="2.3" fill="#a9a9a9"/>
<circle cx="230.0" cy="243.4" r="2.3" fill="#a9a9a9"/>
<circle cx="266.8" cy="212.0" r="2.3" fill="#a9a9a9"/>
<circle cx="303.5" cy="242.3" r="2.3" fill="#a9a9a9"/>
<circle cx="340.2" cy="264.3" r="2.3" fill="#a9a9a9"/>
<circle cx="377.0" cy="229.2" r="2.3" fill="#a9a9a9"/>
<circle cx="413.7" cy="206.4" r="2.3" fill="#a9a9a9"/>
<circle cx="450.5" cy="205.3" r="2.3" fill="#a9a9a9"/>
<circle cx="487.2" cy="185.4" r="2.3" fill="#a9a9a9"/>
<circle cx="523.9" cy="204.0" r="2.3" fill="#a9a9a9"/>
<circle cx="560.7" cy="341.8" r="2.3" fill="#a9a9a9"/>
<circle cx="597.4" cy="389.7" r="2.3" fill="#a9a9a9"/>
<circle cx="46.4" cy="340.0" r="2.3" fill="#a9a9a9"/>
<circle cx="83.1" cy="341.8" r="2.3" fill="#a9a9a9"/>
<circle cx="119.8" cy="320.2" r="2.3" fill="#a9a9a9"/>
<circle cx="156.6" cy="286.7" r="2.3" fill="#a9a9a9"/>
<circle cx="193.3" cy="249.5" r="2.3" fill="#a9a9a9"/>
<circle cx="230.0" cy="230.9" r="2.3" fill="#a9a9a9"/>
<circle cx="266.8" cy="203.0" r="2.3" fill="#a9a9a9"/>
<circle cx="303.5" cy="226.0" r="2.3" fill="#a9a9a9"/>
<circle cx="340.2" cy="300.2" r="2.3" fill="#a9a9a9"/>
<circle cx="377.0" cy="284.0" r="2.3" fill="#a9a9a9"/>
<circle cx="413.7" cy="228.0" r="2.3" fill="#a9a9a9"/>
<circle cx="450.5" cy="250.0" r="2.3" fill="#a9a9a9"/>
<circle cx="487.2" cy="240.0" r="2.3" fill="#a9a9a9"/>
<circle cx="523.9" cy="348.9" r="2.3" fill="#a9a9a9"/>
<circle cx="560.7" cy="365.0" r="2.3" fill="#a9a9a9"/>
<circle cx="597.4" cy="310.0" r="2.3" fill="#a9a9a9"/>
<circle cx="46.4" cy="337.0" r="2.3" fill="#a9a9a9"/>
<circle cx="83.1" cy="335.0" r="2.3" fill="#a9a9a9"/>
<circle cx="119.8" cy="317.0" r="2.3" fill="#a9a9a9"/>
<circle cx="156.6" cy="281.0" r="2.3" fill="#a9a9a9"/>
<circle cx="193.3" cy="248.7" r="2.3" fill="#a9a9a9"/>
<circle cx="230.0" cy="227.2" r="2.3" fill="#a9a9a9"/>
<circle cx="266.8" cy="201.0" r="2.3" fill="#a9a9a9"/>
<circle cx="303.5" cy="234.5" r="2.3" fill="#a9a9a9"/>
<circle cx="340.2" cy="289.0" r="2.3" fill="#a9a9a9"/>
<circle cx="377.0" cy="233.0" r="2.3" fill="#a9a9a9"/>
<circle cx="413.7" cy="219.0" r="2.3" fill="#a9a9a9"/>
<circle cx="450.5" cy="211.0" r="2.3" fill="#a9a9a9"/>
<circle cx="487.2" cy="225.0" r="2.3" fill="#a9a9a9"/>
<circle cx="523.9" cy="207.6" r="2.3" fill="#a9a9a9"/>
<circle cx="560.7" cy="354.1" r="2.3" fill="#a9a9a9"/>
<circle cx="597.4" cy="368.0" r="2.3" fill="#a9a9a9"/>
<circle cx="46.4" cy="355.0" r="2.3" fill="#a9a9a9"/>
<circle cx="83.1" cy="356.0" r="2.3" fill="#a9a9a9"/>
<circle cx="119.8" cy="335.1" r="2.3" fill="#a9a9a9"/>
<circle cx="156.6" cy="296.9" r="2.3" fill="#a9a9a9"/>
<circle cx="193.3" cy="257.1" r="2.3" fill="#a9a9a9"/>
<circle cx="230.0" cy="233.4" r="2.3" fill="#a9a9a9"/>
<circle cx="266.8" cy="215.0" r="2.3" fill="#a9a9a9"/>
<circle cx="303.5" cy="259.6" r="2.3" fill="#a9a9a9"/>
<circle cx="340.2" cy="256.0" r="2.3" fill="#a9a9a9"/>
<circle cx="377.0" cy="295.9" r="2.3" fill="#a9a9a9"/>
<circle cx="413.7" cy="280.5" r="2.3" fill="#a9a9a9"/>
<circle cx="450.5" cy="251.4" r="2.3" fill="#a9a9a9"/>
<circle cx="487.2" cy="330.0" r="2.3" fill="#a9a9a9"/>
<circle cx="523.9" cy="328.9" r="2.3" fill="#a9a9a9"/>
<circle cx="560.7" cy="331.5" r="2.3" fill="#a9a9a9"/>
<circle cx="597.4" cy="341.8" r="2.3" fill="#a9a9a9"/>
<circle cx="46.4" cy="351.0" r="2.3" fill="#a9a9a9"/>
<circle cx="83.1" cy="349.0" r="2.3" fill="#a9a9a9"/>
<circle cx="119.8" cy="338.3" r="2.3" fill="#a9a9a9"/>
<circle cx="156.6" cy="302.5" r="2.3" fill="#a9a9a9"/>
<circle cx="193.3" cy="262.2" r="2.3" fill="#a9a9a9"/>
<circle cx="230.0" cy="248.3" r="2.3" fill="#a9a9a9"/>
<circle cx="266.8" cy="226.0" r="2.3" fill="#a9a9a9"/>
<circle cx="303.5" cy="257.0" r="2.3" fill="#a9a9a9"/>
<circle cx="340.2" cy="290.0" r="2.3" fill="#a9a9a9"/>
<circle cx="377.0" cy="235.0" r="2.3" fill="#a9a9a9"/>
<circle cx="413.7" cy="221.0" r="2.3" fill="#a9a9a9"/>
<circle cx="450.5" cy="249.8" r="2.3" fill="#a9a9a9"/>
<circle cx="487.2" cy="208.6" r="2.3" fill="#a9a9a9"/>
<circle cx="523.9" cy="238.4" r="2.3" fill="#a9a9a9"/>
<circle cx="560.7" cy="264.1" r="2.3" fill="#a9a9a9"/>
<circle cx="597.4" cy="260.0" r="2.3" fill="#a9a9a9"/>
<circle cx="46.4" cy="344.0" r="2.3" fill="#a9a9a9"/>
<circle cx="83.1" cy="347.0" r="2.3" fill="#a9a9a9"/>
<circle cx="119.8" cy="323.4" r="2.3" fill="#a9a9a9"/>
<circle cx="156.6" cy="288.9" r="2.3" fill="#a9a9a9"/>
<circle cx="193.3" cy="259.7" r="2.3" fill="#a9a9a9"/>
<circle cx="230.0" cy="240.9" r="2.3" fill="#a9a9a9"/>
<circle cx="266.8" cy="213.5" r="2.3" fill="#a9a9a9"/>
<circle cx="303.5" cy="254.5" r="2.3" fill="#a9a9a9"/>
<circle cx="340.2" cy="304.5" r="2.3" fill="#a9a9a9"/>
<circle cx="377.0" cy="278.7" r="2.3" fill="#a9a9a9"/>
<circle cx="413.7" cy="252.0" r="2.3" fill="#a9a9a9"/>
<circle cx="450.5" cy="228.9" r="2.3" fill="#a9a9a9"/>
<circle cx="487.2" cy="260.0" r="2.3" fill="#a9a9a9"/>
<circle cx="523.9" cy="215.8" r="2.3" fill="#a9a9a9"/>
<circle cx="560.7" cy="235.4" r="2.3" fill="#a9a9a9"/>
<circle cx="597.4" cy="237.5" r="2.3" fill="#a9a9a9"/>
<circle cx="46.4" cy="350.0" r="2.3" fill="#a9a9a9"/>
<circle cx="83.1" cy="348.0" r="2.3" fill="#a9a9a9"/>
<circle cx="119.8" cy="327.7" r="2.3" fill="#a9a9a9"/>
<circle cx="156.6" cy="301.4" r="2.3" fill="#a9a9a9"/>
<circle cx="193.3" cy="268.1" r="2.3" fill="#a9a9a9"/>
<circle cx="230.0" cy="257.0" r="2.3" fill="#a9a9a9"/>
<circle cx="266.8" cy="220.0" r="2.3" fill="#a9a9a9"/>
<circle cx="303.5" cy="247.0" r="2.3" fill="#a9a9a9"/>
<circle cx="340.2" cy="226.1" r="2.3" fill="#a9a9a9"/>
<circle cx="377.0" cy="219.0" r="2.3" fill="#a9a9a9"/>
<circle cx="413.7" cy="209.4" r="2.3" fill="#a9a9a9"/>
<circle cx="450.5" cy="235.0" r="2.3" fill="#a9a9a9"/>
<circle cx="487.2" cy="285.3" r="2.3" fill="#a9a9a9"/>
<circle cx="523.9" cy="321.0" r="2.3" fill="#a9a9a9"/>
<circle cx="560.7" cy="355.0" r="2.3" fill="#a9a9a9"/>
<circle cx="597.4" cy="352.0" r="2.3" fill="#a9a9a9"/>
</g>
<line x1="46.36" y1="230.6" x2="597.4" y2="270.9" stroke="#1f2ff0" stroke-width="2" clip-path="url(#c)"/>
<g clip-path="url(#c)">
<polyline fill="none" stroke="#000" stroke-width="1.1" points="46.4,350.3 83.1,349.3 119.8,332.3 156.6,296.4 193.3,261.7 230.0,245.5 266.8,223.7 303.5,238.8 340.2,260.0 377.0,250.6 413.7,243.1 450.5,239.1 487.2,254.1 523.9,283.6 560.7,310.2 597.4,314.6"/>
<circle cx="46.4" cy="350.3" r="2.3" fill="#000"/>
<circle cx="83.1" cy="349.3" r="2.3" fill="#000"/>
<circle cx="119.8" cy="332.3" r="2.3" fill="#000"/>
<circle cx="156.6" cy="296.4" r="2.3" fill="#000"/>
<circle cx="193.3" cy="261.7" r="2.3" fill="#000"/>
<circle cx="230.0" cy="245.5" r="2.3" fill="#000"/>
<circle cx="266.8" cy="223.7" r="2.3" fill="#000"/>
<circle cx="303.5" cy="238.8" r="2.3" fill="#000"/>
<circle cx="340.2" cy="260.0" r="2.3" fill="#000"/>
<circle cx="377.0" cy="250.6" r="2.3" fill="#000"/>
<circle cx="413.7" cy="243.1" r="2.3" fill="#000"/>
<circle cx="450.5" cy="239.1" r="2.3" fill="#000"/>
<circle cx="487.2" cy="254.1" r="2.3" fill="#000"/>
<circle cx="523.9" cy="283.6" r="2.3" fill="#000"/>
<circle cx="560.7" cy="310.2" r="2.3" fill="#000"/>
<circle cx="597.4" cy="314.6" r="2.3" fill="#000"/>
</g>
<rect x="46.6" y="99.9" width="550.8" height="354.1" fill="none" stroke="#000" stroke-width="1.8"/>
<line x1="42" x2="46.6" y1="118.9" y2="118.9" stroke="#000" stroke-width="1.2"/>
<line x1="42" x2="46.6" y1="167.2" y2="167.2" stroke="#000" stroke-width="1.2"/>
<line x1="42" x2="46.6" y1="215.5" y2="215.5" stroke="#000" stroke-width="1.2"/>
<line x1="42" x2="46.6" y1="263.8" y2="263.8" stroke="#000" stroke-width="1.2"/>
<line x1="42" x2="46.6" y1="312.1" y2="312.1" stroke="#000" stroke-width="1.2"/>
<line x1="42" x2="46.6" y1="360.4" y2="360.4" stroke="#000" stroke-width="1.2"/>
<line x1="42" x2="46.6" y1="408.7" y2="408.7" stroke="#000" stroke-width="1.2"/>
<circle cx="5.1" cy="259.6" r="1.95" fill="none" stroke="#111" stroke-width="1.25"/>
<path d="M10.5,267.9 V257.1 H17.7 M10.5,262.4 H14.9" fill="none" stroke="#111" stroke-width="1.25"/>
<line x1="83.1" x2="83.1" y1="454.0" y2="457.3" stroke="#000" stroke-width="1.2"/>
<line x1="156.6" x2="156.6" y1="454.0" y2="457.3" stroke="#000" stroke-width="1.2"/>
<line x1="230.0" x2="230.0" y1="454.0" y2="457.3" stroke="#000" stroke-width="1.2"/>
<line x1="303.5" x2="303.5" y1="454.0" y2="457.3" stroke="#000" stroke-width="1.2"/>
<line x1="377.0" x2="377.0" y1="454.0" y2="457.3" stroke="#000" stroke-width="1.2"/>
<line x1="450.5" x2="450.5" y1="454.0" y2="457.3" stroke="#000" stroke-width="1.2"/>
<line x1="523.9" x2="523.9" y1="454.0" y2="457.3" stroke="#000" stroke-width="1.2"/>
<line x1="597.4" x2="597.4" y1="454.0" y2="457.3" stroke="#000" stroke-width="1.2"/>
<defs><filter id="nf"><feOffset dx="0" dy="0"/></filter></defs>
<g filter="url(#nf)">
<text x="23.52" y="124.1" font-size="14.4" textLength="14.95" lengthAdjust="spacingAndGlyphs">85</text>
<text x="23.52" y="172.4" font-size="14.4" textLength="14.91" lengthAdjust="spacingAndGlyphs">80</text>
<text x="23.41" y="220.7" font-size="14.4" textLength="15.06" lengthAdjust="spacingAndGlyphs">75</text>
<text x="23.41" y="269.0" font-size="14.4" textLength="15.02" lengthAdjust="spacingAndGlyphs">70</text>
<text x="23.41" y="317.3" font-size="14.4" textLength="15.06" lengthAdjust="spacingAndGlyphs">65</text>
<text x="23.41" y="365.6" font-size="14.4" textLength="15.01" lengthAdjust="spacingAndGlyphs">60</text>
<text x="23.56" y="413.9" font-size="14.4" textLength="14.90" lengthAdjust="spacingAndGlyphs">55</text>
<text x="66.22" y="468.9" font-size="12.9" textLength="34.05" lengthAdjust="spacingAndGlyphs" stroke="#000" stroke-width="0.35">13MAR</text>
<text x="139.69" y="468.9" font-size="12.9" textLength="34.05" lengthAdjust="spacingAndGlyphs" stroke="#000" stroke-width="0.35">15MAR</text>
<text x="213.16" y="468.9" font-size="12.9" textLength="34.05" lengthAdjust="spacingAndGlyphs" stroke="#000" stroke-width="0.35">17MAR</text>
<text x="286.63" y="468.9" font-size="12.9" textLength="34.05" lengthAdjust="spacingAndGlyphs" stroke="#000" stroke-width="0.35">19MAR</text>
<text x="360.37" y="468.9" font-size="12.9" textLength="33.78" lengthAdjust="spacingAndGlyphs" stroke="#000" stroke-width="0.35">21MAR</text>
<text x="433.85" y="468.9" font-size="12.9" textLength="33.78" lengthAdjust="spacingAndGlyphs" stroke="#000" stroke-width="0.35">23MAR</text>
<text x="507.32" y="468.9" font-size="12.9" textLength="33.78" lengthAdjust="spacingAndGlyphs" stroke="#000" stroke-width="0.35">25MAR</text>
<text x="580.79" y="468.9" font-size="12.9" textLength="33.78" lengthAdjust="spacingAndGlyphs" stroke="#000" stroke-width="0.35">27MAR</text>
<text x="69.49" y="480.9" font-size="12.9" textLength="26.81" lengthAdjust="spacingAndGlyphs" stroke="#000" stroke-width="0.35">2025</text>
<text x="149.16" y="22.7" font-size="19.0" textLength="87.24" lengthAdjust="spacing" stroke="#fff" stroke-width="0.23">Argentina</text>
<text x="249.74" y="22.7" font-size="19.0" textLength="90.45" lengthAdjust="spacing" stroke="#fff" stroke-width="0.23">Soybeans</text>
<text x="352.77" y="22.7" font-size="19.0" textLength="119.07" lengthAdjust="spacing" stroke="#fff" stroke-width="0.23">Temperature</text>
<text x="63.61" y="45.6" font-size="15.7" textLength="68.00" lengthAdjust="spacing" stroke="#fff" stroke-width="0.19">Forecast</text>
<text x="141.01" y="45.6" font-size="15.7" textLength="35.72" lengthAdjust="spacing" stroke="#fff" stroke-width="0.19">Daily</text>
<text x="190.71" y="45.6" font-size="15.7" textLength="39.81" lengthAdjust="spacing" stroke="#fff" stroke-width="0.19">Mean</text>
<text x="240.05" y="45.6" font-size="15.7" textLength="98.45" lengthAdjust="spacing" stroke="#fff" stroke-width="0.19">Temperature</text>
<text x="348.10" y="45.6" font-size="15.7" textLength="80.81" lengthAdjust="spacing" stroke="#fff" stroke-width="0.19">Compared</text>
<text x="438.26" y="45.6" font-size="15.7" textLength="14.40" lengthAdjust="spacing" stroke="#fff" stroke-width="0.19">to</text>
<text x="461.51" y="45.6" font-size="15.7" textLength="56.94" lengthAdjust="spacing" stroke="#fff" stroke-width="0.19">Normal</text>
<text x="526.83" y="45.6" font-size="15.7" textLength="30.55" lengthAdjust="spacing" stroke="#fff" stroke-width="0.19">(°F)</text>
<text x="170.20" y="65.0" font-size="15.8" textLength="84.72" lengthAdjust="spacing" stroke="#fff" stroke-width="0.19">Production</text>
<text x="268.83" y="65.0" font-size="15.8" textLength="67.99" lengthAdjust="spacing" stroke="#fff" stroke-width="0.19">Weighted</text>
<text x="346.17" y="65.0" font-size="15.8" textLength="34.23" lengthAdjust="spacing" stroke="#fff" stroke-width="0.19">Area</text>
<text x="389.87" y="65.0" font-size="15.8" textLength="60.63" lengthAdjust="spacing" stroke="#fff" stroke-width="0.19">Average</text>
<text x="122.67" y="85.6" font-size="16.2" textLength="19.41" lengthAdjust="spacing" stroke="#fff" stroke-width="0.19">15</text>
<text x="156.47" y="85.6" font-size="16.2" textLength="29.46" lengthAdjust="spacing" stroke="#fff" stroke-width="0.19">Day</text>
<text x="195.17" y="85.6" font-size="16.2" textLength="71.85" lengthAdjust="spacing" stroke="#fff" stroke-width="0.19">Forecast</text>
<text x="277.17" y="85.6" font-size="16.2" textLength="79.97" lengthAdjust="spacing" stroke="#fff" stroke-width="0.19">Beginning</text>
<text x="367.47" y="85.6" font-size="16.2" textLength="21.85" lengthAdjust="spacing" stroke="#fff" stroke-width="0.19">12</text>
<text x="397.67" y="85.6" font-size="16.2" textLength="50.28" lengthAdjust="spacing" stroke="#fff" stroke-width="0.19">March</text>
<text x="457.69" y="85.6" font-size="16.2" textLength="41.10" lengthAdjust="spacing" stroke="#fff" stroke-width="0.19">2025</text>
<text x="57.82" y="116.3" font-size="11.9" textLength="49.27" lengthAdjust="spacing" stroke="#fff" stroke-width="0.14">National</text>
<text x="115.25" y="116.3" font-size="11.9" textLength="46.95" lengthAdjust="spacing" stroke="#fff" stroke-width="0.14">Weather</text>
<text x="170.06" y="116.3" font-size="11.9" textLength="43.17" lengthAdjust="spacing" stroke="#fff" stroke-width="0.14">Service</text>
<text x="220.80" y="116.3" font-size="11.9" textLength="37.49" lengthAdjust="spacing" stroke="#fff" stroke-width="0.14">Global</text>
<text x="264.22" y="116.3" font-size="11.9" textLength="52.66" lengthAdjust="spacing" stroke="#fff" stroke-width="0.14">Forecast</text>
<text x="324.76" y="116.3" font-size="11.9" textLength="43.52" lengthAdjust="spacing" stroke="#fff" stroke-width="0.14">System</text>
<text x="114.22" y="132.2" font-size="12.0" textLength="57.02" lengthAdjust="spacing" stroke="#fff" stroke-width="0.14">Ensemble</text>
<text x="179.12" y="132.2" font-size="12.0" textLength="54.82" lengthAdjust="spacing" stroke="#fff" stroke-width="0.14">Members</text>
<text x="322.02" y="132.2" font-size="12.0" textLength="58.02" lengthAdjust="spacing" stroke="#fff" stroke-width="0.14">Ensemble</text>
<text x="387.18" y="132.2" font-size="12.0" textLength="47.66" lengthAdjust="spacing" stroke="#fff" stroke-width="0.14">Average</text>
<text x="529.82" y="132.2" font-size="12.0" textLength="44.09" lengthAdjust="spacing" stroke="#fff" stroke-width="0.14">Normal</text>
<text x="476.35" y="446.9" font-size="12.0" textLength="33.53" lengthAdjust="spacing" stroke="#fff" stroke-width="0.14">World</text>
<text x="516.28" y="446.9" font-size="12.0" textLength="15.00" lengthAdjust="spacing" stroke="#fff" stroke-width="0.14">Ag</text>
<text x="537.95" y="446.9" font-size="12.0" textLength="47.95" lengthAdjust="spacing" stroke="#fff" stroke-width="0.14">Weather</text>
</g>
<line x1="63.3" x2="102.6" y1="127.7" y2="127.7" stroke="#bdbdbd" stroke-width="1.2"/>
<circle cx="63.3" cy="127.7" r="2.6" fill="#a0a0a0"/><circle cx="102.6" cy="127.7" r="2.6" fill="#a0a0a0"/>
<rect x="271.4" y="123.0" width="39.3" height="4.6" fill="#58a6ff"/>
<rect x="271.4" y="127.9" width="39.3" height="4.6" fill="#ff5757"/>
<line x1="271.4" x2="310.7" y1="127.7" y2="127.7" stroke="#000" stroke-width="1"/>
<circle cx="271.4" cy="127.8" r="2.7" fill="#000"/><circle cx="310.7" cy="127.8" r="2.7" fill="#000"/>
<line x1="478.3" x2="519.6" y1="127.8" y2="127.8" stroke="#1f2ff0" stroke-width="2"/>
<circle cx="466.85" cy="442.55" r="4.45" fill="none" stroke="#222" stroke-width="1.2"/>
<path d="M468.46,441.02 A2.4,2.4 0 1 0 468.46,444.58" fill="none" stroke="#222" stroke-width="1.15"/>
<line x1="179.5" x2="188.6" y1="40.7" y2="40.7" stroke="#111" stroke-width="1.3"/>
<line x1="256.4" x2="266.0" y1="60.6" y2="60.6" stroke="#111" stroke-width="1.3"/>
<line x1="145.0" x2="154.4" y1="80.4" y2="80.4" stroke="#111" stroke-width="1.3"/>
</svg>
</body></html>
